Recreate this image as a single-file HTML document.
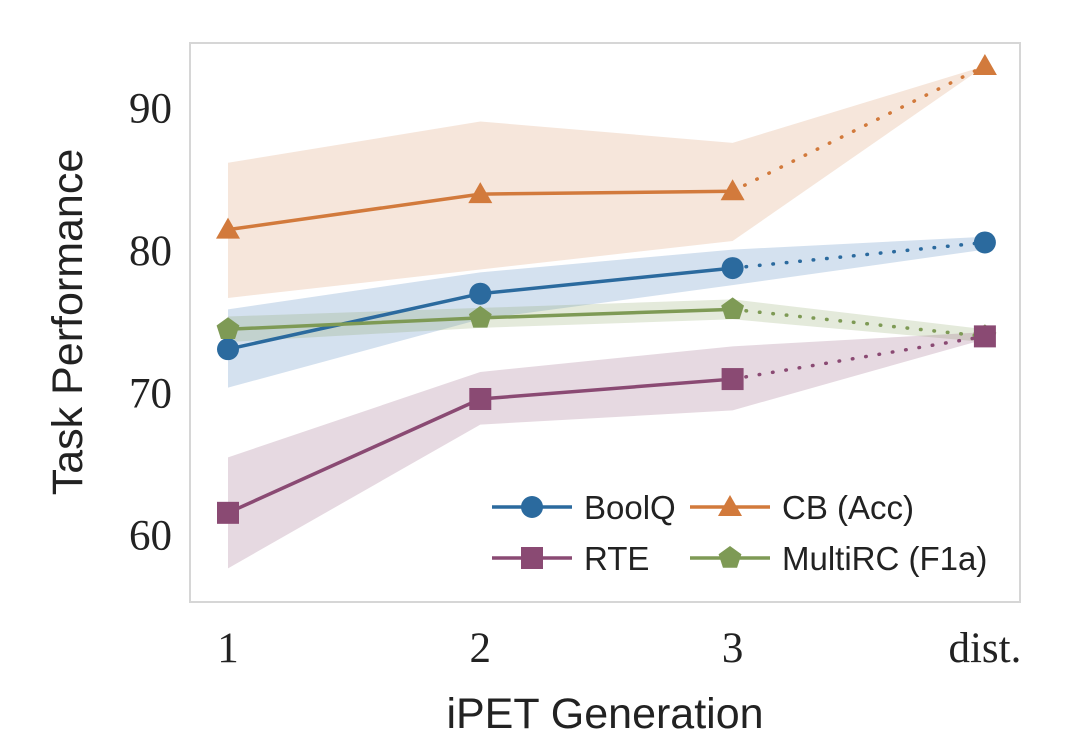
<!DOCTYPE html>
<html><head><meta charset="utf-8"><style>
body{margin:0;background:#fff;width:1080px;height:742px;overflow:hidden}
svg{display:block}
</style></head><body>
<svg id="chart" width="1080" height="742" xmlns="http://www.w3.org/2000/svg"></svg>
<script>
const categories = ["1","2","3","dist."];
const yTicks = [60,70,80,90];
const boolq = [73.1,77.0,78.8,80.6];
const boolqHi = [75.9,78.5,80.1,81.0];
const boolqLo = [70.4,75.2,77.6,80.1];
const cb = [81.5,84.0,84.2,93.0];
const cbHi = [86.2,89.1,87.6,93.0];
const cbLo = [76.7,78.7,80.7,93.0];
const rte = [61.6,69.6,71.0,74.0];
const rteHi = [65.5,71.5,73.3,74.3];
const rteLo = [57.7,67.8,68.8,73.8];
const multirc = [74.5,75.3,75.9,74.0];
const multircHi = [75.4,76.0,76.6,74.5];
const multircLo = [73.6,74.6,75.2,73.6];

const NS="http://www.w3.org/2000/svg";
const svg=document.getElementById('chart');
const X=i=>228+i*252.3;
const Y=v=>251-(v-80)*14.23;
function mk(tag,attrs,parent){const e=document.createElementNS(NS,tag);for(const k in attrs)e.setAttribute(k,attrs[k]);(parent||svg).appendChild(e);return e;}

const frame=mk('rect',{x:190,y:43,width:830,height:559,fill:'none',stroke:'#d6d6d6','stroke-width':2});



yTicks.forEach(t=>{
  const tx=mk('text',{x:172,y:Y(t)+14,'text-anchor':'end','font-family':'Liberation Serif, serif','font-size':43,fill:'#222'});
  tx.textContent=t;
  
  
});
categories.forEach((c,i)=>{
  const tx=mk('text',{x:X(i),y:662,'text-anchor':'middle','font-family':'Liberation Serif, serif','font-size':43,fill:'#222'});
  tx.textContent=c;
  
  
});
const yl=mk('text',{x:0,y:0,transform:'translate(82,322) rotate(-90)','text-anchor':'middle','font-family':'Liberation Sans, sans-serif','font-size':43,fill:'#222'});
yl.textContent='Task Performance';


const xl=mk('text',{x:605,y:728,'text-anchor':'middle','font-family':'Liberation Sans, sans-serif','font-size':43,fill:'#222'});
xl.textContent='iPET Generation';



function marker(shape,x,y,color,parent){
  let m;
  if(shape==='circle') m=mk('circle',{cx:x,cy:y,r:11,fill:color},parent);
  else if(shape==='square') m=mk('rect',{x:x-11,y:y-11,width:22,height:22,fill:color},parent);
  else if(shape==='triangle') m=mk('polygon',{points:`${x},${y-12} ${x+12},${y+9} ${x-12},${y+9}`,fill:color},parent);
  else { const p=[];for(let k=0;k<5;k++){const a=-Math.PI/2+k*2*Math.PI/5;p.push((x+12*Math.cos(a))+','+(y+12*Math.sin(a)));} m=mk('polygon',{points:p.join(' '),fill:color},parent);}
  return m;
}
const series=[
  {name:'cb',vals:cb,hi:cbHi,lo:cbLo,color:'#d27a3c',band:'rgba(215,140,90,0.22)',shape:'triangle'},
  {name:'boolq',vals:boolq,hi:boolqHi,lo:boolqLo,color:'#2b6a9e',band:'rgba(60,120,180,0.22)',shape:'circle'},
  {name:'multirc',vals:multirc,hi:multircHi,lo:multircLo,color:'#7e9a55',band:'rgba(130,160,90,0.22)',shape:'pentagon'},
  {name:'rte',vals:rte,hi:rteHi,lo:rteLo,color:'#8a4a73',band:'rgba(140,80,120,0.22)',shape:'square'}
];
series.forEach(s=>{
  const pts=s.hi.map((v,i)=>X(i)+','+Y(v)).concat(s.lo.map((v,i)=>X(i)+','+Y(v)).reverse());
  const b=mk('polygon',{points:pts.join(' '),fill:s.band});
  
  
});
series.forEach(s=>{
  const g=mk('g',{});
  
  
  mk('polyline',{points:s.vals.slice(0,3).map((v,i)=>X(i)+','+Y(v)).join(' '),fill:'none',stroke:s.color,'stroke-width':3.5},g);
  mk('line',{x1:X(2),y1:Y(s.vals[2]),x2:X(3),y2:Y(s.vals[3]),stroke:s.color,'stroke-width':3.5,'stroke-dasharray':'0.5 13','stroke-linecap':'round'},g);
  s.vals.forEach((v,i)=>{const m=marker(s.shape,X(i),Y(v),s.color,g);
    
    });
});
const legend=[['BoolQ','#2b6a9e','circle',492,507],['CB (Acc)','#d27a3c','triangle',690,507],['RTE','#8a4a73','square',492,558],['MultiRC (F1a)','#7e9a55','pentagon',690,558]];
const lg=mk('g',{});


legend.forEach(l=>{
  const g=mk('g',{},lg);
  
  
  mk('line',{x1:l[3],y1:l[4],x2:l[3]+80,y2:l[4],stroke:l[1],'stroke-width':3.5},g);
  marker(l[2],l[3]+40,l[4],l[1],g);
  const t=mk('text',{x:l[3]+92,y:l[4]+12,'font-family':'Liberation Sans, sans-serif','font-size':33,fill:'#222'},g);
  t.textContent=l[0];
});
</script>
</body></html>
